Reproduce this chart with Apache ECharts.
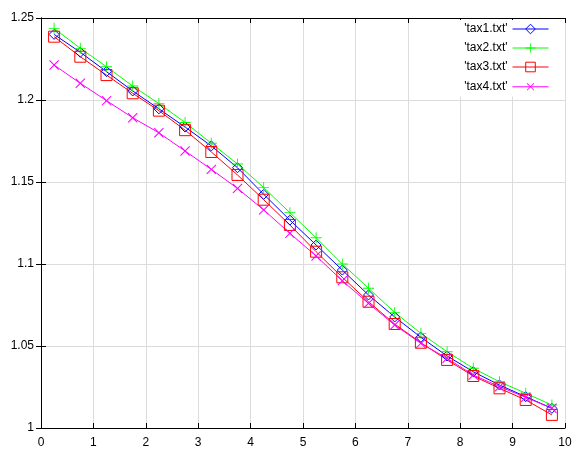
<!DOCTYPE html>
<html lang="en">
	<head>
		<meta charset="UTF-8" />
		<title>tax</title>
		<style>
			html, body { margin: 0; padding: 0; background: #fff; }
			#chart { width: 586px; height: 455px; }
		</style>
	</head>
	<body>
		<div id="chart"></div>
		<script src="https://cdn.jsdelivr.net/npm/echarts@6/dist/echarts.min.js"></script>
		<script>
			const xs = [0.25, 0.75, 1.25, 1.75, 2.25, 2.75, 3.25, 3.75, 4.25, 4.75,
				5.25, 5.75, 6.25, 6.75, 7.25, 7.75, 8.25, 8.75, 9.25, 9.75];
			const tax1 = [1.2400, 1.2291, 1.2173, 1.2055, 1.1946, 1.1835, 1.1720, 1.1587, 1.1425, 1.1268,
				1.1116, 1.0963, 1.0811, 1.0677, 1.0553, 1.0439, 1.0343, 1.0262, 1.0191, 1.0120];
			const tax2 = [1.2437, 1.2315, 1.2203, 1.2085, 1.1978, 1.1863, 1.1736, 1.1610, 1.1466, 1.1313,
				1.1160, 1.1000, 1.0852, 1.0705, 1.0577, 1.0465, 1.0364, 1.0282, 1.0212, 1.0140];
			const tax3 = [1.2386, 1.2264, 1.2152, 1.2041, 1.1935, 1.1816, 1.1683, 1.1543, 1.1392, 1.1238,
				1.1075, 1.0919, 1.0770, 1.0634, 1.0520, 1.0415, 1.0317, 1.0242, 1.0171, 1.0080];
			const tax4 = [1.2213, 1.2102, 1.1996, 1.1892, 1.1800, 1.1689, 1.1577, 1.1461, 1.1330, 1.1187,
				1.1049, 1.0898, 1.0760, 1.0628, 1.0516, 1.0425, 1.0323, 1.0252, 1.0187, 1.0120];
			const names = ["'tax1.txt'", "'tax2.txt'", "'tax3.txt'", "'tax4.txt'"];

			const font = "'Liberation Sans Narrow', 'Liberation Sans', Arial, sans-serif";
			const plus = "path://M4.6,0H5.4V4.6H10V5.4H5.4V10H4.6V5.4H0V4.6H4.6Z";

			function pairs(ys) {
				return xs.map((x, i) => [x, ys[i]]);
			}

			function makeSeries(name, ys, color, symbol, size, rotate) {
				const hollow = symbol === "diamond" || symbol === "rect";
				return {
					name: name,
					type: "line",
					data: pairs(ys),
					symbol: symbol,
					symbolSize: size,
					symbolRotate: rotate || 0,
					showAllSymbol: true,
					lineStyle: { color: color, width: 1 },
					itemStyle: hollow
						? { color: "rgba(255,255,255,0)", borderColor: color, borderWidth: 1 }
						: { color: color, borderWidth: 0 },
					emphasis: { disabled: true },
					animation: false,
				};
			}

			const myChart = echarts.init(document.getElementById("chart"));

			const axisCommon = {
				type: "value",
				axisLine: { show: true, lineStyle: { color: "#000", width: 1 } },
				axisTick: { show: true, inside: true, length: 5, lineStyle: { color: "#000" } },
			};

			myChart.setOption({
				backgroundColor: "#fff",
				animation: false,
				grid: { left: 41, right: 21, top: 18, bottom: 27 },
				legend: {
					orient: "vertical",
					right: 32,
					top: 20,
					align: "right",
					itemWidth: 36,
					itemHeight: 12,
					itemGap: 7,
					backgroundColor: "#fff",
					padding: [3, 5, 3, 40],
					lineStyle: { width: 1 },
					itemStyle: { borderWidth: 1 },
					textStyle: { fontFamily: font, fontSize: 12, color: "#000" },
					data: names,
				},
				xAxis: [
					Object.assign({}, axisCommon, {
						min: 0, max: 10, interval: 1,
						axisLabel: { color: "#000", fontFamily: font, fontSize: 12, margin: 9 },
						splitLine: { show: true, lineStyle: { color: "#dcdcdc", width: 1 } },
					}),
					Object.assign({}, axisCommon, {
						position: "top",
						min: 0, max: 10, interval: 1,
						axisLabel: { show: false },
						splitLine: { show: false },
					}),
				],
				yAxis: [
					Object.assign({}, axisCommon, {
						min: 1, max: 1.25, interval: 0.05,
						axisLabel: { color: "#000", fontFamily: font, fontSize: 12, margin: 7 },
						splitLine: { show: true, lineStyle: { color: "#dcdcdc", width: 1 } },
					}),
					Object.assign({}, axisCommon, {
						position: "right",
						min: 1, max: 1.25, interval: 0.05,
						axisLabel: { show: false },
						splitLine: { show: false },
					}),
				],
				series: [
					makeSeries(names[0], tax1, "#0000ff", "diamond", 10),
					makeSeries(names[1], tax2, "#00ff00", plus, 11),
					makeSeries(names[2], tax3, "#ff0000", "rect", 11),
					makeSeries(names[3], tax4, "#ff00ff", plus, 13, 45),
				],
			});
		</script>
	</body>
</html>
